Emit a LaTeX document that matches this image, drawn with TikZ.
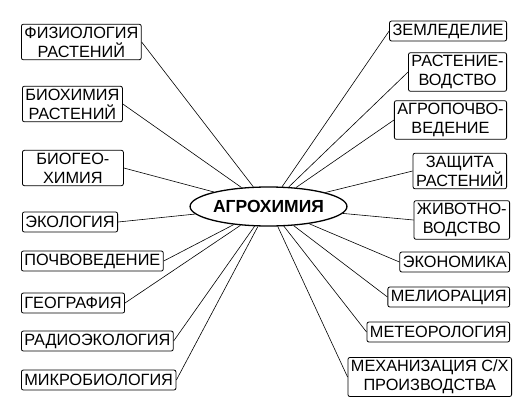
\documentclass[tikz,border=0pt]{standalone}
\usepackage{fontspec}
\setmainfont{Liberation Sans}
\usetikzlibrary{shapes,positioning}
\tikzset{
    topic/.style={
    rectangle,rounded corners=2pt,draw=black,line width=0.8pt,align=center,
    inner xsep=3pt,inner ysep=2.5pt,minimum height=20pt,
    font=\fontsize{16.3}{19}\selectfont
    },
    core/.style={
    ellipse,draw=black,line width=1.3pt,minimum width=147pt,minimum height=39pt,
    inner sep=0pt,font=\fontsize{17.5}{20}\selectfont\bfseries
    },
    link/.style={
    draw=black,line width=0.6pt
    },
}
\begin{document}
\begin{tikzpicture}[x=1pt, y=-1pt]
   \useasboundingbox (0,0) rectangle (527,407);
   \node[core] (agro) at (268.5,206.5) {АГРОХИМИЯ};
   % left column
   \node[topic,anchor=west] (fiz) at (21,42) {ФИЗИОЛОГИЯ\\РАСТЕНИЙ};
   \node[topic,anchor=west] (bioch) at (22,104) {БИОХИМИЯ\\РАСТЕНИЙ};
   \node[topic,anchor=west,minimum width=101pt] (biogeo) at (22,168) {БИОГЕО-\\ХИМИЯ};
   \node[topic,anchor=west] (eko) at (22,222) {ЭКОЛОГИЯ};
   \node[topic,anchor=west] (pochv) at (21,261) {ПОЧВОВЕДЕНИЕ};
   \node[topic,anchor=west] (geo) at (21,303) {ГЕОГРАФИЯ};
   \node[topic,anchor=west] (radio) at (21,341) {РАДИОЭКОЛОГИЯ};
   \node[topic,anchor=west] (mikro) at (21,380) {МИКРОБИОЛОГИЯ};
   % right column
   \node[topic,anchor=east] (zemle) at (507,31) {ЗЕМЛЕДЕЛИЕ};
   \node[topic,anchor=east] (rast) at (507,72) {РАСТЕНИЕ-\\ВОДСТВО};
   \node[topic,anchor=east] (agpoch) at (507,120) {АГРОПОЧВО-\\ВЕДЕНИЕ};
   \node[topic,anchor=east] (zash) at (507,171) {ЗАЩИТА\\РАСТЕНИЙ};
   \node[topic,anchor=east] (zhiv) at (510,220) {ЖИВОТНО-\\ВОДСТВО};
   \node[topic,anchor=east] (ekon) at (510,262) {ЭКОНОМИКА};
   \node[topic,anchor=east] (melio) at (510,297) {МЕЛИОРАЦИЯ};
   \node[topic,anchor=east] (meteo) at (510,332) {МЕТЕОРОЛОГИЯ};
   \node[topic,anchor=east] (mekh) at (512,377) {МЕХАНИЗАЦИЯ С/Х\\ПРОИЗВОДСТВА};

  \path[link]
    (fiz.east) edge (agro)
    (bioch.east) edge (agro)
    (biogeo.east) edge (agro)
    (eko.east) edge (agro)
    (pochv.east) edge (agro)
    (geo.east) edge (agro)
    (radio.east) edge (agro)
    (mikro.east) edge (agro)
    (zemle.west) edge (agro)
    (rast.west) edge (agro)
    (agpoch.west) edge (agro)
    (zash.west) edge (agro)
    (zhiv.west) edge (agro)
    (ekon.west) edge (agro)
    (melio.west) edge (agro)
    (meteo.west) edge (agro)
    (mekh.west) edge (agro);
\end{tikzpicture}
\end{document}
